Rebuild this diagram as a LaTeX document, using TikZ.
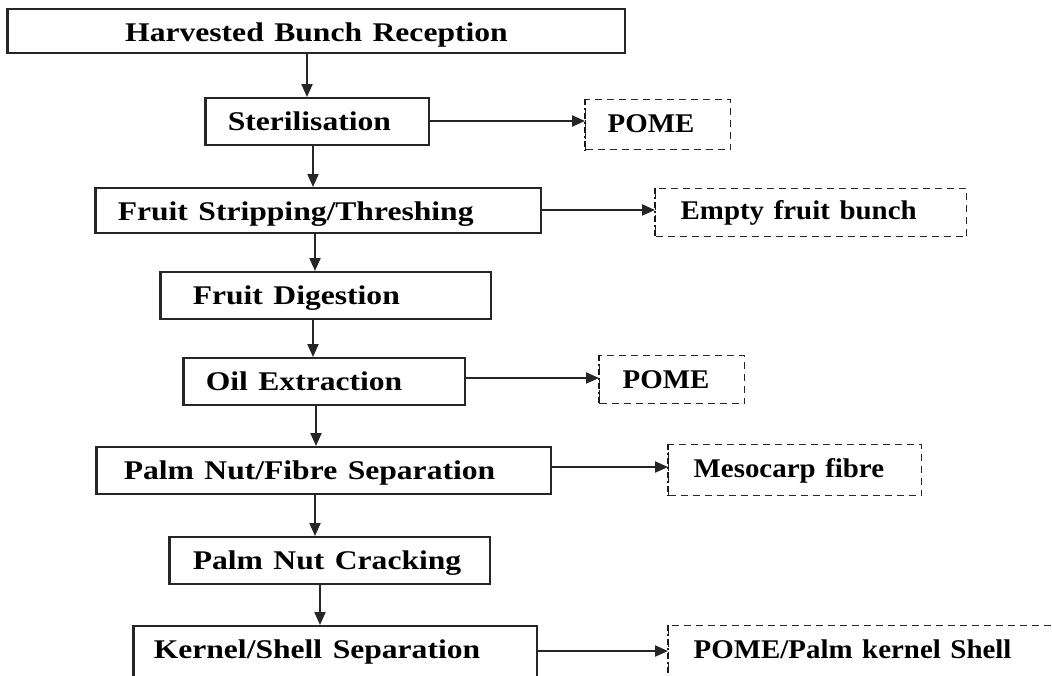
\documentclass[tikz,border=0pt]{standalone}
\usepackage{fontspec}
\setmainfont{Liberation Serif}
\usepackage{graphicx}
\usetikzlibrary{arrows.meta}
\newcommand{\txtL}[1]{\scalebox{1.17}[1]{#1}}
\newcommand{\txtR}[1]{\scalebox{1.07}[1]{#1}}
\begin{document}
\begin{tikzpicture}[x=1pt,y=-1pt,
  proc/.style={draw=black!85, line width=1.5pt, anchor=north west, inner ysep=0pt,
    text height=33pt, font=\bfseries\fontsize{27}{31}\selectfont, align=left},
  waste/.style={proc, dash pattern=on 7pt off 5pt, line width=1.4pt},
  arr/.style={draw=black!85, line width=2pt, -{Triangle[length=13pt,width=11pt]}},
  thickedge/.style={black!85, line width=2.6pt},
  dashedge/.style={black!90, line width=2.6pt, dash pattern=on 6pt off 3pt on 2pt off 3pt}]
\clip (0,0) rectangle (1052,675);
\fill[white] (0,0) rectangle (1052,675);
% main process boxes
\node[proc, text width=616.5pt, inner xsep=0pt, align=center, text depth=11pt] (B1) at (7.5,8) {\txtL{Harvested Bunch Reception}};
\node[proc, text width=179pt, inner xsep=22pt, text depth=14pt] (B2) at (205,97) {\txtL{Sterilisation}};
\node[proc, text width=401pt, inner xsep=22pt, text depth=12pt] (B3) at (95,187) {\txtL{Fruit Stripping/Threshing}};
\node[proc, text width=266pt, inner xsep=32pt, text depth=14pt] (B4) at (160,271) {\txtL{Fruit Digestion}};
\node[proc, text width=237pt, inner xsep=22pt, text depth=14pt] (B5) at (183,357) {\txtL{Oil Extraction}};
\node[proc, text width=400pt, inner xsep=27pt, text depth=14pt] (B6) at (96,446) {\txtL{Palm Nut/Fibre Separation}};
\node[proc, text width=274pt, inner xsep=23pt, text depth=14pt] (B7) at (169,536) {\txtL{Palm Nut Cracking}};
\node[proc, text width=363pt, inner xsep=20pt, text depth=22pt] (B8) at (133,625) {\txtL{Kernel/Shell Separation}};
\foreach \n in {B1,B2,B3,B4,B5,B6,B7,B8}
  \draw[thickedge] (\n.north west) -- (\n.south west);
% by-product boxes
\node[waste, text width=101pt, inner xsep=22pt, text depth=17pt] (D1) at (585,99) {\txtR{POME}};
\node[waste, text width=261pt, inner xsep=25pt, text height=31pt, text depth=17pt] (D2) at (655,188) {\txtR{Empty fruit bunch}};
\node[waste, text width=99pt, inner xsep=23pt, text depth=15pt] (D3) at (599,355) {\txtR{POME}};
\node[waste, text width=203pt, inner xsep=25pt, text depth=18pt] (D4) at (668,444) {\txtR{Mesocarp fibre}};
\node[waste, text width=370pt, inner xsep=25pt, text depth=25pt] (D5) at (668,625) {\txtR{POME/Palm kernel Shell}};
\foreach \n in {D1,D2,D3,D4,D5}
  \draw[dashedge] (\n.north west) -- (\n.south west);
% vertical flow
\draw[arr] (B1.south -| 307,0) -- (B2.north -| 307,0);
\draw[arr] (B2.south -| 313,0) -- (B3.north -| 313,0);
\draw[arr] (B3.south -| 315,0) -- (B4.north -| 315,0);
\draw[arr] (B4.south -| 313,0) -- (B5.north -| 313,0);
\draw[arr] (B5.south -| 316,0) -- (B6.north -| 316,0);
\draw[arr] (B6.south -| 315,0) -- (B7.north -| 315,0);
\draw[arr] (B7.south -| 320,0) -- (B8.north -| 320,0);
% side outputs
\draw[arr] (B2.east |- 0,121) -- (D1.west |- 0,121);
\draw[arr] (B3.east |- 0,210) -- (D2.west |- 0,210);
\draw[arr] (B5.east |- 0,378) -- (D3.west |- 0,378);
\draw[arr] (B6.east |- 0,467) -- (D4.west |- 0,467);
\draw[arr] (B8.east |- 0,651) -- (D5.west |- 0,651);
\end{tikzpicture}
\end{document}
